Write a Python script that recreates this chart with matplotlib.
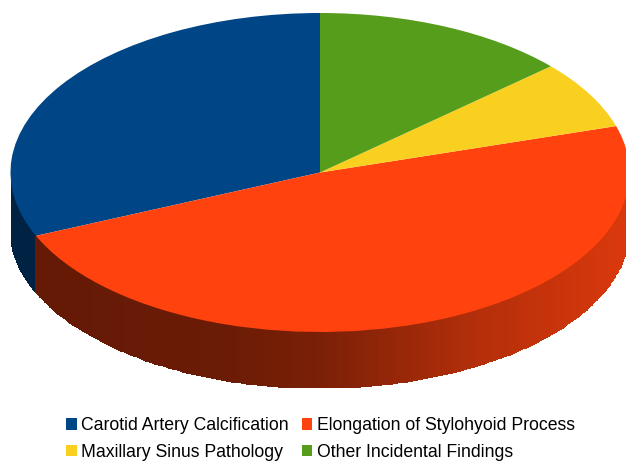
import numpy as np
import matplotlib
matplotlib.use('Agg')
import matplotlib.pyplot as plt

W, H = 626, 461
categories = ['Carotid Artery Calcification', 'Elongation of Stylohyoid Process',
              'Maxillary Sinus Pathology', 'Other Incidental Findings']
values = [31.5, 48.2, 6.9, 13.4]
colors = ['#004586', '#FF420E', '#F9D020', '#579D1C']

plt.rcParams['font.family'] = ['Liberation Sans', 'DejaVu Sans']

depth = 56 / 159.5
fig = plt.figure(figsize=(W / 100, H / 100), dpi=100, facecolor='white')
ax = fig.add_axes([10.5 / W, 1 - 388 / H, 619 / W, 375 / H])

wedges, _ = ax.pie(values, colors=colors, startangle=90, counterclock=True, radius=1)
for w in wedges:
    w.set_zorder(3)
    w.set_edgecolor('none')

# side wall, only the front half of the disc shows
edges = 90 + 360 * np.cumsum([0] + values) / sum(values)
shade_x = [-1.0, -0.3, 0.0, 0.5, 1.0]
shade_k = [0.39, 0.42, 0.48, 0.70, 0.86]
for i, c in enumerate(colors):
    lo, hi = max(edges[i], 180), min(edges[i + 1], 360)
    if hi <= lo:
        continue
    t = np.radians(np.linspace(lo, hi, 160))
    X = np.vstack([np.cos(t), np.cos(t)])
    Y = np.vstack([np.sin(t), np.sin(t) - depth])
    mid = (X[0, :-1] + X[0, 1:]) / 2
    k = np.interp(mid, shade_x, shade_k)
    if i == 0:
        k = np.full_like(mid, 0.5)
    rgb = np.array(matplotlib.colors.to_rgb(c))
    C = np.clip(k[:, None] * rgb, 0, 1)[None, :, :]
    ax.pcolormesh(X, Y, C, shading='flat', edgecolors='face', linewidth=0.3, zorder=1)

ax.set_aspect('auto')
ax.set_xlim(-1, 1)
ax.set_ylim(-1 - depth, 1)
ax.axis('off')

order = [0, 2, 1, 3]
fig.legend([wedges[i] for i in order], [categories[i] for i in order], ncol=2,
           loc='lower left', bbox_to_anchor=(50 / W, -0.034), frameon=False,
           fontsize=12.7, handlelength=0.62, handleheight=0.62, handletextpad=0.25,
           columnspacing=0.72, labelspacing=0.55, borderpad=0.4)

fig.savefig('out.png', dpi=100, facecolor='white')
